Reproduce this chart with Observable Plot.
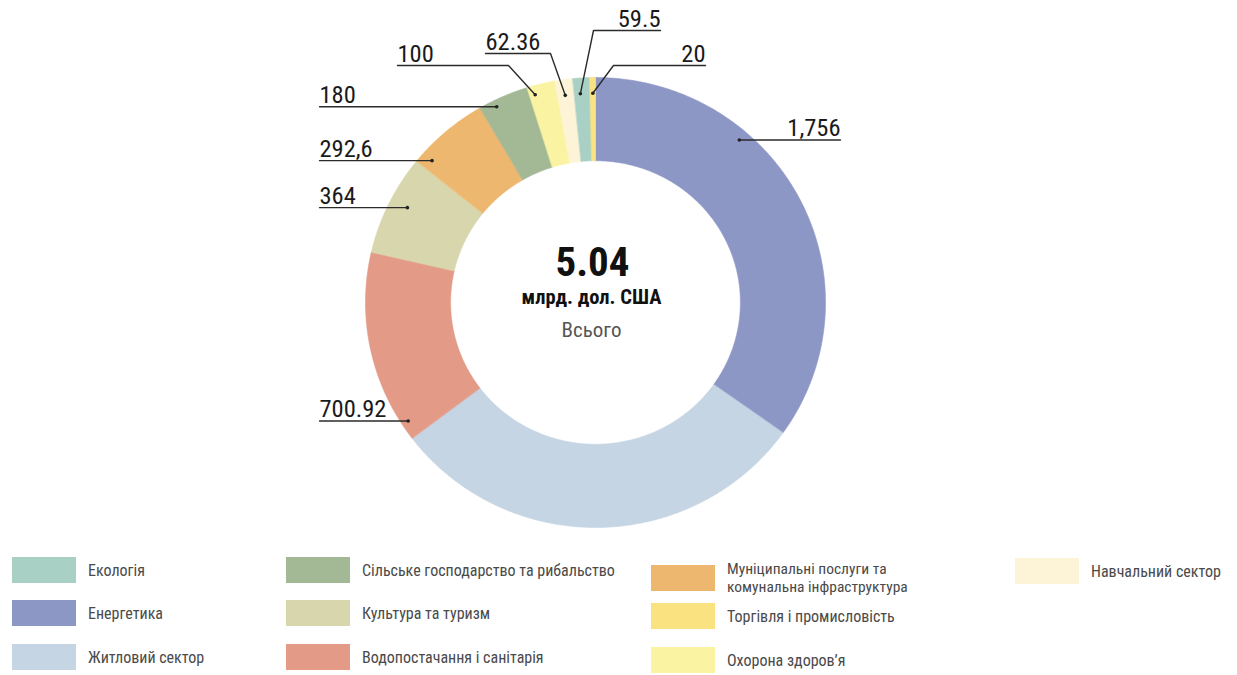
<!DOCTYPE html>
<html>
<head>
<meta charset="utf-8">
<script src="https://cdn.jsdelivr.net/npm/d3@7"></script>
<script src="https://cdn.jsdelivr.net/npm/@observablehq/plot@0.6"></script>
<style>
  html, body { margin: 0; padding: 0; background: #fff; }
  body { width: 1237px; height: 675px; overflow: hidden; font-family: "Roboto Condensed", "Liberation Sans Narrow", Roboto, sans-serif; }
  #chart { position: absolute; left: 0; top: 0; }
  #legend { position: absolute; left: 0; top: 0; width: 1237px; height: 675px; pointer-events: none; }
  .li { position: absolute; display: flex; align-items: center; }
  .sw { width: 64px; height: 26px; flex: none; }
  .lt { margin-left: 12px; font-size: 16px; color: #4a4a4a; line-height: 17px; }
  .lt.two { font-size: 15.5px; line-height: 18px; }
</style>
</head>
<body>
<div id="chart"></div>
<div id="legend"></div>
<script>
// ---- data ----
const sectors = [
  "Енергетика",
  "Житловий сектор",
  "Водопостачання і санітарія",
  "Культура та туризм",
  "Муніципальні послуги та комунальна інфраструктура",
  "Сільське господарство та рибальство",
  "Охорона здоров’я",
  "Навчальний сектор",
  "Екологія",
  "Торгівля і промисловість"
];
const values = [1756, 1504.62, 700.92, 364, 292.6, 180, 100, 62.36, 59.5, 20];
const valueLabels = ["1,756", null, "700.92", "364", "292,6", "180", "100", "62.36", "59.5", "20"];
const colors = ["#8d97c6", "#c5d5e4", "#e39a86", "#d8d6ad", "#eeb76f", "#a3b894", "#faf3a2", "#fdf4d8", "#a9d0c4", "#f9e27f"];
const legendColumns = [
  ["Екологія", "Енергетика", "Житловий сектор"],
  ["Сільське господарство та рибальство", "Культура та туризм", "Водопостачання і санітарія"],
  ["Муніципальні послуги та комунальна інфраструктура", "Торгівля і промисловість", "Охорона здоров’я"],
  ["Навчальний сектор"]
];
const totalLabel = "5.04";
const unitLabel = "млрд. дол. США";
const totalCaption = "Всього";

// ---- layout ----
const W = 1237, H = 540;
const cx = 595, cy = 302, Rx = 230, Ry = 225, inner = 0.63;
const pie = d3.pie().sort(null).value(d => d.value).startAngle(0).endAngle(2 * Math.PI);
const arcs = pie(sectors.map((s, i) => ({sector: s, value: values[i]})));

const pt = (a, k) => ({x: cx + Rx * k * Math.sin(a), y: cy - Ry * k * Math.cos(a)});

const slicePts = [];
arcs.forEach(a => {
  const n = Math.max(4, Math.ceil((a.endAngle - a.startAngle) / (Math.PI / 360)));
  for (let j = 0; j <= n; j++) {
    const t = a.startAngle + (a.endAngle - a.startAngle) * j / n;
    slicePts.push({sector: a.data.sector, ...pt(t, 1)});
  }
  for (let j = n; j >= 0; j--) {
    const t = a.startAngle + (a.endAngle - a.startAngle) * j / n;
    slicePts.push({sector: a.data.sector, ...pt(t, inner)});
  }
});

// label anchor settings: fraction within slice, radial fraction, leader geometry
const labelCfg = {
  0: {frac: 0.326, k: 0.955, side: "right", x1: 840},
  2: {frac: 0.084, k: 0.97, side: "left", x0: 319},
  3: {frac: 0.55, k: 0.92, side: "left", x0: 319},
  4: {frac: 0.125, k: 0.95, side: "left", x0: 319},
  5: {frac: 0.3, k: 0.97, side: "left", x0: 319},
  6: {frac: 0.2, k: 0.96, side: "top", x0: 397, knee: 508, ly: 65, anchor: "start"},
  7: {frac: 0.45, k: 0.93, side: "top", x0: 485, knee: 550, ly: 53, anchor: "start"},
  8: {frac: 0.38, k: 0.93, side: "top", x0: 660, knee: 593, ly: 30, anchor: "end"},
  9: {frac: 0.5, k: 0.93, side: "top", x0: 705, knee: 613, ly: 65, anchor: "end"}
};

const leaderPts = [], dots = [], texts = [];
arcs.forEach((a, i) => {
  const c = labelCfg[i];
  if (!c || !valueLabels[i]) return;
  const ang = a.startAngle + (a.endAngle - a.startAngle) * c.frac;
  const d = pt(ang, c.k);
  dots.push(d);
  if (c.side === "left") {
    leaderPts.push({id: i, x: c.x0, y: d.y}, {id: i, x: d.x, y: d.y});
    texts.push({x: c.x0, y: d.y, text: valueLabels[i], anchor: "start"});
  } else if (c.side === "right") {
    leaderPts.push({id: i, x: d.x, y: d.y}, {id: i, x: c.x1, y: d.y});
    texts.push({x: c.x1, y: d.y, text: valueLabels[i], anchor: "end"});
  } else {
    leaderPts.push({id: i, x: c.x0, y: c.ly}, {id: i, x: c.knee, y: c.ly}, {id: i, x: d.x, y: d.y});
    texts.push({x: c.x0, y: c.ly, text: valueLabels[i], anchor: c.anchor});
  }
});

const fontFam = '"Roboto Condensed", "Liberation Sans Narrow", Roboto, sans-serif';
const numStyle = {x: "x", y: "y", text: "text", lineAnchor: "bottom", dy: -4, fontSize: 24.5, fill: "#1a1a1a"};

const chart = Plot.plot({
  width: W, height: H,
  margin: 0,
  x: {domain: [0, W], range: [0, W], axis: null},
  y: {domain: [0, H], range: [0, H], axis: null},
  color: {domain: sectors, range: colors},
  style: {fontFamily: fontFam, background: "white"},
  marks: [
    Plot.line(slicePts, {x: "x", y: "y", z: "sector", fill: "sector", stroke: "sector", strokeWidth: 0.6, curve: "linear-closed"}),
    Plot.line(leaderPts, {x: "x", y: "y", z: "id", stroke: "#2b2b2b", strokeWidth: 1.4}),
    Plot.dot(dots, {x: "x", y: "y", r: 1.8, fill: "#222"}),
    Plot.text(texts.filter(d => d.anchor === "start"), {...numStyle, textAnchor: "start"}),
    Plot.text(texts.filter(d => d.anchor === "end"), {...numStyle, textAnchor: "end"}),
    Plot.text([{x: 592, y: 275, t: totalLabel}], {x: "x", y: "y", text: "t", lineAnchor: "bottom", fontSize: 41, fontWeight: 700, fill: "#111"}),
    Plot.text([{x: 591, y: 303, t: unitLabel}], {x: "x", y: "y", text: "t", lineAnchor: "bottom", fontSize: 20.5, fontWeight: 700, fill: "#111"}),
    Plot.text([{x: 591, y: 336, t: totalCaption}], {x: "x", y: "y", text: "t", lineAnchor: "bottom", fontSize: 21, fill: "#555"})
  ]
});
document.getElementById("chart").appendChild(chart);

// ---- legend ----
const colX = [12, 286, 651, 1015];
const rowY = [557, 600, 644];
const leg = document.getElementById("legend");
legendColumns.forEach((col, ci) => {
  col.forEach((name, ri) => {
    const item = document.createElement("div");
    item.className = "li";
    item.style.left = colX[ci] + "px";
    item.style.top = (rowY[ri] + (ci === 2 ? 3 : 0) + (ci === 3 ? 1 : 0)) + "px";
    const sw = document.createElement("div");
    sw.className = "sw";
    sw.style.background = colors[sectors.indexOf(name)];
    const t = document.createElement("div");
    t.className = "lt";
    t.textContent = name;
    if (name.startsWith("Муніципальні")) {
      t.className = "lt two";
      t.innerHTML = "Муніципальні послуги та<br>комунальна інфраструктура";
    }
    item.appendChild(sw);
    item.appendChild(t);
    leg.appendChild(item);
  });
});
</script>
</body>
</html>
